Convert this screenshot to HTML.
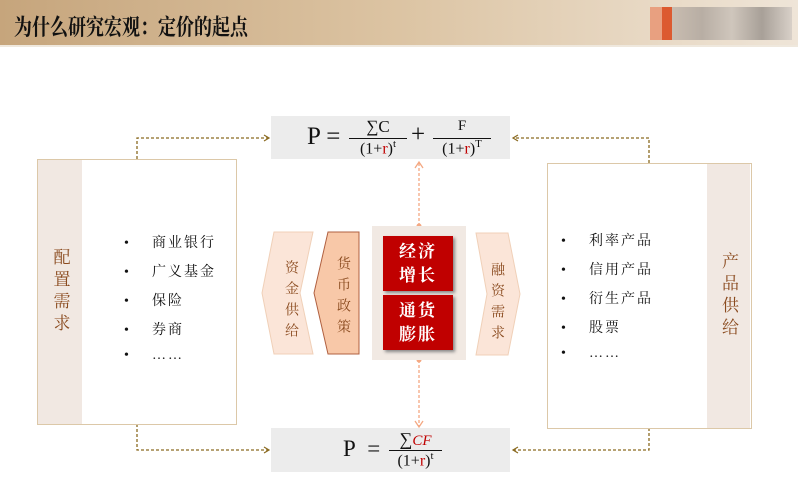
<!DOCTYPE html>
<html><head><meta charset="utf-8"><style>
body{margin:0;width:798px;height:492px;position:relative;background:#fff;overflow:hidden;font-family:"Liberation Serif","Noto Serif CJK SC",serif}
.a{position:absolute}
.title{left:0;top:0;width:798px;height:45px;background:linear-gradient(90deg,#c6a57c,#dcc4a3 50%,#efe5d8);border-bottom:2px solid #efe8dd}
.title span{position:absolute;left:14px;top:10px;font-size:18px;font-weight:bold;color:#111;transform:scaleY(1.25);transform-origin:left top}
.box{border:1px solid #dcc8a8;background:#fff}
.side{background:#f1e8e2;color:#8a4a1e;font-size:17px;writing-mode:vertical-rl;text-orientation:upright;display:flex;align-items:center;justify-content:center;letter-spacing:5px}
ul{margin:0;padding:0;list-style:none;font-size:14px;color:#111}
li{height:29px;letter-spacing:2px}
li b{display:inline-block;width:28px;font-weight:normal}
.f{background:#ececec;font-family:"Liberation Serif","DejaVu Serif",serif;color:#111}
.red{background:#c00000;color:#fff;font-size:17px;font-weight:bold;text-align:center;line-height:24px;box-shadow:2px 2px 3px #888;display:flex;align-items:center;justify-content:center;letter-spacing:2px}
.vt{writing-mode:vertical-rl;text-orientation:upright;font-size:14px;color:#8a4a1e;letter-spacing:7px}
</style></head><body>
<div class="a title"><span>为什么研究宏观：定价的起点</span></div>
<div class="a" style="left:650px;top:7px;width:12px;height:33px;background:#e8a080"></div>
<div class="a" style="left:662px;top:7px;width:10px;height:33px;background:#dc5a30"></div>
<div class="a" style="left:672px;top:7px;width:120px;height:33px;background:linear-gradient(90deg,#c8bcb0,#b8aea4,#cfc6bc,#a8a098,#d8d0c8)"></div>

<svg class="a" style="left:0;top:0" width="798" height="492">
<g fill="none" stroke="#8a6a20" stroke-width="1.3" stroke-dasharray="3,2">
<path d="M137 159 V138 H268"/><path d="M137 424 V450 H268"/>
<path d="M649 163 V138 H513"/><path d="M649 428 V450 H513"/>
</g>
<g fill="none" stroke="#8a6a20" stroke-width="1.2">
<path d="M264 135 L269 138 L264 141"/><path d="M264 447 L269 450 L264 453"/>
<path d="M518 135 L513 138 L518 141"/><path d="M518 447 L513 450 L518 453"/>
</g>
<g stroke="#f4a882" stroke-width="1.3" fill="none">
<path d="M419 226 V163" stroke-dasharray="3,2"/><path d="M415 168 L419 162 L423 168"/>
<path d="M419 360 V426" stroke-dasharray="3,2"/><path d="M415 421 L419 427 L423 421"/>
</g>
<circle cx="419" cy="226" r="2.5" fill="#f4a882"/><circle cx="419" cy="360" r="2.5" fill="#f4a882"/>
<polygon points="274,232 313,232 300,293 313,354 274,354 262,293" fill="#fbe5d8" stroke="#f0d0b8"/>
<polygon points="328,232 359,232 359,354 328,354 314,293" fill="#f8c8a8" stroke="#b06040"/>
<polygon points="476,233 508,233 520,294 508,355 476,355 487,294" fill="#fbe5d8" stroke="#f0d0b8"/>
</svg>

<div class="a vt" style="left:280px;top:260px">资金供给</div>
<div class="a vt" style="left:332px;top:256px">货币政策</div>
<div class="a vt" style="left:486px;top:262px">融资需求</div>

<div class="a box" style="left:37px;top:159px;width:198px;height:264px"></div>
<div class="a side" style="left:38px;top:160px;width:44px;height:264px">配置需求</div>
<ul class="a" style="left:124px;top:232px"><li><b>•</b>商业银行</li><li><b>•</b>广义基金</li><li><b>•</b>保险</li><li><b>•</b>券商</li><li><b>•</b>……</li></ul>

<div class="a box" style="left:547px;top:163px;width:203px;height:264px"></div>
<div class="a side" style="left:707px;top:164px;width:43px;height:264px">产品供给</div>
<ul class="a" style="left:561px;top:230px"><li><b>•</b>利率产品</li><li><b>•</b>信用产品</li><li><b>•</b>衍生产品</li><li><b>•</b>股票</li><li><b>•</b>……</li></ul>

<div class="a" style="left:372px;top:226px;width:94px;height:134px;background:#f1e9e3"></div>
<div class="a red" style="left:383px;top:236px;width:70px;height:55px">经济<br>增长</div>
<div class="a red" style="left:383px;top:295px;width:70px;height:55px">通货<br>膨胀</div>

<div class="a f" style="left:271px;top:116px;width:239px;height:43px">
<span class="a" style="left:36px;top:7px;font-size:25px">P = </span>
<span class="a" style="left:78px;top:1px;width:58px;text-align:center;font-size:17px;border-bottom:1px solid #111;height:21px">∑C</span>
<span class="a" style="left:78px;top:22px;width:58px;text-align:center;font-size:16px">(1+<span style="color:#c00000">r</span>)<sup style="font-size:11px">t</sup></span>
<span class="a" style="left:140px;top:5px;font-size:25px">+</span>
<span class="a" style="left:162px;top:2px;width:58px;text-align:center;font-size:15px;border-bottom:1px solid #111;height:20px">F</span>
<span class="a" style="left:162px;top:22px;width:58px;text-align:center;font-size:16px">(1+<span style="color:#c00000">r</span>)<sup style="font-size:11px">T</sup></span>
</div>

<div class="a f" style="left:271px;top:428px;width:239px;height:44px">
<span class="a" style="left:72px;top:8px;font-size:23px">P&nbsp; =</span>
<span class="a" style="left:118px;top:1px;width:53px;text-align:center;font-size:18px;border-bottom:1px solid #111;height:21px">∑<i style="color:#c00000;font-size:15px">CF</i></span>
<span class="a" style="left:118px;top:22px;width:53px;text-align:center;font-size:16px">(1+<span style="color:#c00000">r</span>)<sup style="font-size:11px">t</sup></span>
</div>
</body></html>
